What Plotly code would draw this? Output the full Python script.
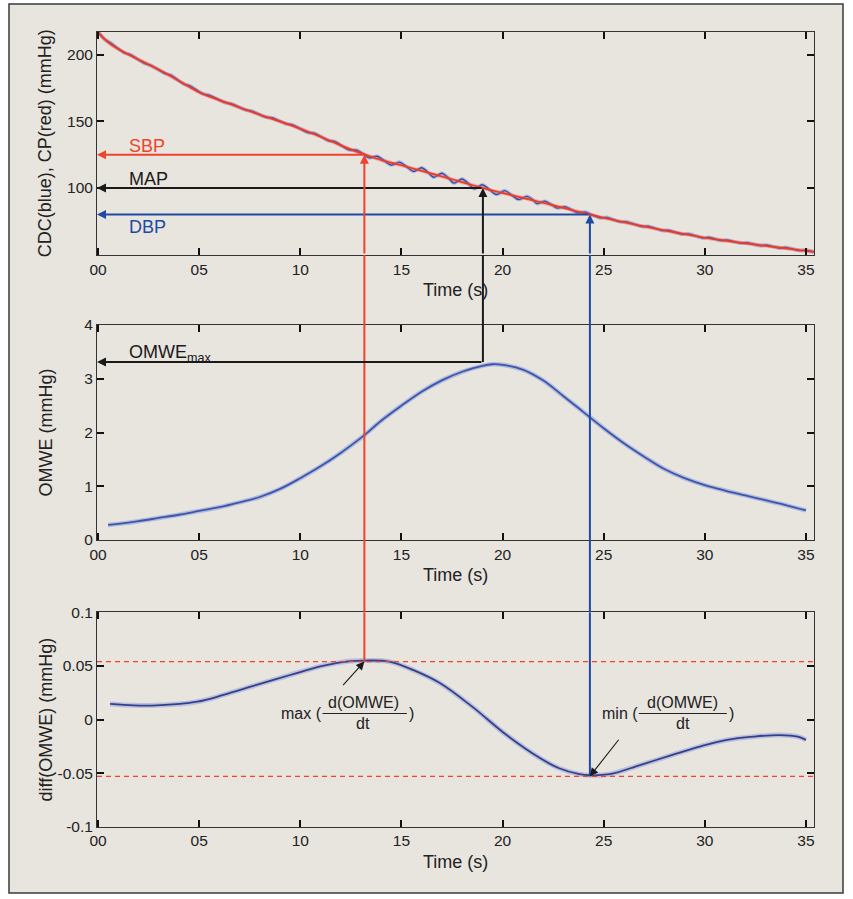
import plotly.graph_objects as go

# ---------------- data ----------------
time_ticks = [0, 5, 10, 15, 20, 25, 30, 35]
time_tick_labels = ["00", "05", "10", "15", "20", "25", "30", "35"]

top_ticks = [100, 150, 200]
mid_ticks = [0, 1, 2, 3, 4]
bot_ticks = [-0.1, -0.05, 0, 0.05, 0.1]
bot_tick_labels = ["-0.1", "-0.05", "0", "0.05", "0.1"]

# cuff pressure CP (red)
cp_t = [0, 0.5, 1, 2, 3, 4, 5, 6, 7, 8, 9, 10, 11, 12, 13, 13.2, 14, 15, 16, 17, 18,
        19, 20, 21, 22, 23, 24, 25, 26, 27, 28, 29, 30, 31, 32, 33, 34, 35, 35.4]
cp_v = [217, 209.5, 204.5, 196.5, 189, 180.5, 172, 166, 160.5, 155, 150, 144.5, 138.5,
        132, 126, 125, 121, 117, 112.8, 108.6, 104.3, 100, 96.2, 92.5, 88.8, 85, 81.2,
        77.5, 74.2, 71, 68, 65.2, 62.5, 60.3, 58.3, 56.4, 54.5, 52.6, 51.8]

# cuff deflation curve CDC (blue): trough / peak / fall of each beat
cdc_t = [0, 0.3, 0.6, 1.3, 1.6, 2.3, 2.6, 3.3, 3.6, 4.25, 4.55, 5.2, 5.5, 6.3, 6.6,
         7.3, 7.6, 8.3, 8.6, 9.3, 9.6, 10.4, 10.7, 11.4, 11.7,
         12.4, 12.8, 13.1, 13.4, 13.8, 14.1, 14.5, 14.9, 15.2, 15.6, 16.0, 16.3,
         16.6, 17.0, 17.3, 17.6, 18.0, 18.3, 18.6, 19.0, 19.3, 19.7, 20.1, 20.4,
         20.8, 21.2, 21.5, 21.7, 22.1, 22.4, 22.7, 23.1, 23.4, 23.7, 24.1, 24.4,
         24.85, 25.15, 25.8, 26.1, 26.9, 27.2, 27.9, 28.2, 28.9, 29.2, 29.9, 30.2,
         30.8, 31.1, 31.8, 32.1, 32.75, 33.05, 33.7, 34.0, 34.7, 35.0, 35.4]
cdc_v = [217.5, 212.2, 209.3, 201.6, 200.3, 193.6, 192.3, 186.1, 184.8, 178.1, 176.8,
         170.6, 169.8, 164.1, 163.3, 158.6, 157.8, 153.1, 152.8, 148.1, 147.5, 141.5,
         141.2, 135.4, 135.0,
         128.6, 128.4, 125.7, 122.6, 123.8, 121.0, 117.2, 119.4, 116.6, 112.4, 115.1,
         111.9, 108.0, 111.0, 107.8, 103.6, 106.7, 103.5, 99.3, 102.3, 99.4, 95.0,
         97.9, 95.2, 91.2, 93.6, 91.1, 88.2, 89.9, 87.6, 84.8, 85.8, 83.7, 81.2, 81.8,
         79.8,
         77.4, 77.8, 74.5, 74.6, 70.9, 71.1, 67.9, 68.1, 65.1, 65.4, 62.3, 62.8, 60.4,
         60.8, 58.3, 58.8, 56.5, 57.0, 54.7, 55.2, 52.8, 53.2, 51.8]

# oscillometric waveform envelope OMWE
omwe_t = [0.5, 1, 2, 3, 4, 5, 6, 7, 8, 9, 10, 11, 12, 13, 13.2, 14, 15, 16, 17, 18, 19,
          19.5, 20, 21, 22, 23, 24, 25, 26, 27, 28, 29, 30, 31, 32, 33, 34, 35]
omwe_v = [0.28, 0.30, 0.35, 0.41, 0.47, 0.54, 0.61, 0.70, 0.80, 0.95, 1.15, 1.37, 1.62,
          1.90, 1.96, 2.22, 2.50, 2.76, 2.97, 3.13, 3.24, 3.27, 3.26, 3.17, 2.97, 2.68,
          2.38, 2.08, 1.80, 1.55, 1.32, 1.15, 1.02, 0.92, 0.83, 0.74, 0.65, 0.55]

# derivative of OMWE
diff_t = [0.6, 1.75, 2.9, 4.9, 6.2, 7.8, 9.5, 11.1, 12.5, 13.2, 14.4, 15.6, 16.9, 18.5,
          20.2, 21.85, 22.8, 23.8, 24.3, 25.3, 26.8, 28.4, 29.8, 31.1, 32.4, 33.7, 34.6,
          35.0]
diff_v = [0.0145, 0.0132, 0.0132, 0.0166, 0.0229, 0.032, 0.0415, 0.050, 0.0545, 0.055,
          0.054, 0.046, 0.034, 0.012, -0.0145, -0.036, -0.0455, -0.051, -0.052, -0.051,
          -0.0425, -0.033, -0.025, -0.019, -0.016, -0.0145, -0.016, -0.019]

# key values
sbp, map_p, dbp = 125, 100, 80
t_sbp, t_map, t_dbp = 13.17, 19.03, 24.32
omwe_max = 3.31
diff_max, diff_min = 0.054, -0.053

# ---------------- styling ----------------
W, H = 853, 899
X_RANGE = [-0.05, 35.4]
TOP_RANGE = [49.5, 217.5]
MID_RANGE = [0, 4]
BOT_RANGE = [-0.1, 0.1]
FONT = "Liberation Sans, Arial, Helvetica, sans-serif"
RED = "#ee432d"
BLUE = "#1f4aa3"
BLACK = "#1a1a1a"
TXT = "#222"

x_dom = [97 / W, 814 / W]
top_dom = [1 - 255 / H, 1 - 31.7 / H]
mid_dom = [1 - 540 / H, 1 - 325 / H]
bot_dom = [1 - 826.7 / H, 1 - 612.3 / H]

fig = go.Figure()

# top panel
fig.add_trace(go.Scatter(x=cdc_t, y=cdc_v, mode="lines", xaxis="x", yaxis="y",
                         line=dict(color="rgba(90,120,210,0.40)", width=3.6, shape="spline",
                                   smoothing=0.8), hoverinfo="skip"))
fig.add_trace(go.Scatter(x=cdc_t, y=cdc_v, mode="lines", xaxis="x", yaxis="y",
                         line=dict(color="#2c4ea6", width=1.4, shape="spline", smoothing=0.8)))
fig.add_trace(go.Scatter(x=cp_t, y=cp_v, mode="lines", xaxis="x", yaxis="y",
                         line=dict(color="rgba(240,90,80,0.40)", width=3.6, shape="spline"),
                         hoverinfo="skip"))
fig.add_trace(go.Scatter(x=cp_t, y=cp_v, mode="lines", xaxis="x", yaxis="y",
                         line=dict(color="#ec3a2a", width=1.7, shape="spline")))

# middle panel
fig.add_trace(go.Scatter(x=omwe_t, y=omwe_v, mode="lines", xaxis="x2", yaxis="y2",
                         line=dict(color="rgba(110,140,215,0.45)", width=4.5, shape="spline"),
                         hoverinfo="skip"))
fig.add_trace(go.Scatter(x=omwe_t, y=omwe_v, mode="lines", xaxis="x2", yaxis="y2",
                         line=dict(color="#3e55ad", width=1.8, shape="spline")))

# bottom panel
fig.add_trace(go.Scatter(x=diff_t, y=diff_v, mode="lines", xaxis="x3", yaxis="y3",
                         line=dict(color="rgba(120,140,210,0.40)", width=5, shape="spline"),
                         hoverinfo="skip"))
fig.add_trace(go.Scatter(x=diff_t, y=diff_v, mode="lines", xaxis="x3", yaxis="y3",
                         line=dict(color="#34408f", width=1.8, shape="spline")))


def xaxis(anchor):
    return dict(domain=x_dom, anchor=anchor, range=X_RANGE, tickmode="array",
                tickvals=time_ticks, ticktext=time_tick_labels, ticks="inside", ticklen=7,
                tickwidth=1.6, tickcolor="#111", showline=True, linecolor="#333",
                linewidth=1, mirror="ticks", showgrid=False, zeroline=False,
                automargin=False, tickfont=dict(family=FONT, size=15.5, color=TXT))


def yaxis(anchor, dom, rng, vals, text=None):
    d = dict(domain=dom, anchor=anchor, range=rng, tickmode="array", tickvals=vals,
             ticks="inside", ticklen=7, tickwidth=1.6, tickcolor="#111", showline=True,
             linecolor="#333", linewidth=1, mirror="ticks", showgrid=False,
             zeroline=False, automargin=False,
             tickfont=dict(family=FONT, size=15.5, color=TXT))
    if text is not None:
        d["ticktext"] = text
    return d


annotations = []
shapes = []

# outer frame
shapes.append(dict(type="rect", xref="paper", yref="paper", x0=9 / W, x1=843 / W,
                   y0=1 - 893 / H, y1=1 - 4 / H, fillcolor="#e8e4de",
                   line=dict(color="#3a3a3a", width=1.5), layer="below"))

# axis titles
for xr, yr in (("x", "y"), ("x2", "y2"), ("x3", "y3")):
    annotations.append(dict(text="Time (s)", xref=xr + " domain", yref=yr + " domain",
                            x=0.5, y=0, yshift=-35, showarrow=False, xanchor="center",
                            yanchor="middle", font=dict(family=FONT, size=18, color=TXT)))
for yr, txt in (("y", "CDC(blue), CP(red) (mmHg)"), ("y2", "OMWE (mmHg)"),
                ("y3", "diff(OMWE) (mmHg)")):
    annotations.append(dict(text=txt, xref="paper", yref=yr + " domain", x=45 / W, y=0.5,
                            textangle=-90, showarrow=False, xanchor="center",
                            yanchor="middle", font=dict(family=FONT, size=18, color=TXT)))


def arrow(x, y, ax, ay, xr, yr, color, width=2, size=0.9):
    annotations.append(dict(x=x, y=y, ax=ax, ay=ay, xref=xr, yref=yr, axref=xr, ayref=yr,
                            text="", showarrow=True, arrowhead=2, arrowsize=size,
                            arrowwidth=width, arrowcolor=color, standoff=0,
                            startstandoff=0))


# horizontal arrows in top panel
arrow(X_RANGE[0], sbp, t_sbp, sbp, "x", "y", RED)
arrow(X_RANGE[0], map_p, t_map, map_p, "x", "y", BLACK)
arrow(X_RANGE[0], dbp, t_dbp, dbp, "x", "y", BLUE)
# vertical arrows up into the top panel
arrow(t_sbp, sbp, t_sbp, TOP_RANGE[0], "x", "y", RED)
arrow(t_map, map_p, t_map, TOP_RANGE[0], "x", "y", BLACK)
arrow(t_dbp, dbp, t_dbp, TOP_RANGE[0], "x", "y", BLUE)
# OMWE max arrow in middle panel
arrow(X_RANGE[0], omwe_max, t_map, omwe_max, "x2", "y2", BLACK)

# connecting vertical lines
for t, col in ((t_sbp, RED), (t_dbp, BLUE)):
    shapes.append(dict(type="line", xref="x", yref="paper", x0=t, x1=t, y0=bot_dom[1],
                       y1=top_dom[0], line=dict(color=col, width=2), layer="above"))
shapes.append(dict(type="line", xref="x3", yref="y3", x0=t_sbp, x1=t_sbp, y0=diff_max,
                   y1=BOT_RANGE[1], line=dict(color=RED, width=2)))
shapes.append(dict(type="line", xref="x3", yref="y3", x0=t_dbp, x1=t_dbp, y0=diff_min,
                   y1=BOT_RANGE[1], line=dict(color=BLUE, width=2)))
shapes.append(dict(type="line", xref="x", yref="paper", x0=t_map, x1=t_map, y0=mid_dom[1],
                   y1=top_dom[0], line=dict(color=BLACK, width=2)))
shapes.append(dict(type="line", xref="x2", yref="y2", x0=t_map, x1=t_map, y0=omwe_max,
                   y1=MID_RANGE[1], line=dict(color=BLACK, width=2)))

# dashed level lines in the bottom panel
for lv in (diff_max, diff_min):
    shapes.append(dict(type="line", xref="x3 domain", yref="y3", x0=0, x1=1, y0=lv, y1=lv,
                       line=dict(color="#f0442e", width=1.2, dash="5px,4px"), layer="above"))

# text labels in the top panel
for txt, yv, col in (("SBP", 131.6, RED), ("MAP", 106.6, BLACK), ("DBP", 70.6, BLUE)):
    annotations.append(dict(text=txt, x=1.45, y=yv, xref="x", yref="y", showarrow=False,
                            xanchor="left", yanchor="middle",
                            font=dict(family=FONT, size=18, color=col)))
annotations.append(dict(text="OMWE<sub>max</sub>", x=1.43, y=3.47, xref="x2", yref="y2",
                        showarrow=False, xanchor="left", yanchor="middle",
                        font=dict(family=FONT, size=18, color=BLACK)))

# fraction labels in the bottom panel
FR = FONT
for word, left, center, right in (("max (", 11.15, 13.11, 15.27), ("min (", 26.79, 28.92, 31.09)):
    annotations.append(dict(text=word, x=left, y=0.006, xref="x3", yref="y3",
                            showarrow=False, xanchor="right", yanchor="middle",
                            font=dict(family=FR, size=16, color=TXT)))
    annotations.append(dict(text="d(OMWE)", x=center, y=0.0157, xref="x3", yref="y3",
                            showarrow=False, xanchor="center", yanchor="middle",
                            font=dict(family=FR, size=16, color=TXT)))
    annotations.append(dict(text="dt", x=center, y=-0.0038, xref="x3", yref="y3",
                            showarrow=False, xanchor="center", yanchor="middle",
                            font=dict(family=FR, size=16, color=TXT)))
    annotations.append(dict(text=")", x=right, y=0.006, xref="x3", yref="y3",
                            showarrow=False, xanchor="left", yanchor="middle",
                            font=dict(family=FR, size=16, color=TXT)))
    shapes.append(dict(type="line", xref="x3", yref="y3", x0=left - 0.05, x1=right,
                       y0=0.0056, y1=0.0056, line=dict(color=TXT, width=1)))

# small pointer arrows
arrow(t_sbp, diff_max, 12.05, 0.0306, "x3", "y3", BLACK, width=1.1, size=1.5)
arrow(t_dbp, diff_min, 25.8, -0.0175, "x3", "y3", BLACK, width=1.1, size=1.5)

fig.update_layout(
    template="none",
    width=W, height=H, margin=dict(l=0, r=0, t=0, b=0, pad=0, autoexpand=False),
    showlegend=False,
    paper_bgcolor="white", plot_bgcolor="#f3f2ee",
    font=dict(family=FONT, size=15, color=TXT),
    xaxis=xaxis("y"), xaxis2=xaxis("y2"), xaxis3=xaxis("y3"),
    yaxis=yaxis("x", top_dom, TOP_RANGE, top_ticks),
    yaxis2=yaxis("x2", mid_dom, MID_RANGE, mid_ticks),
    yaxis3=yaxis("x3", bot_dom, BOT_RANGE, bot_ticks, bot_tick_labels),
    annotations=annotations, shapes=shapes,
)

fig.write_html("out.html")
